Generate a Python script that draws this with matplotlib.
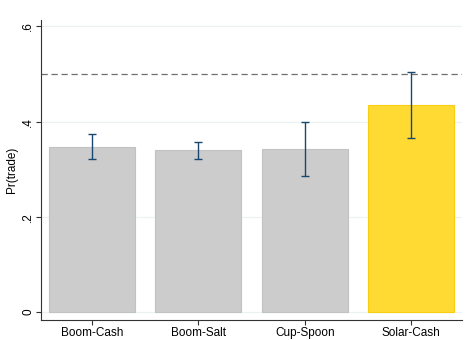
import numpy as np
import matplotlib.pyplot as plt

plt.rcParams['font.family'] = ['Liberation Sans', 'DejaVu Sans']

categories = ['Boom-Cash', 'Boom-Salt', 'Cup-Spoon', 'Solar-Cash']
means = [0.347, 0.341, 0.343, 0.435]
ci_low = [0.322, 0.322, 0.285, 0.366]
ci_high = [0.374, 0.358, 0.400, 0.504]
y_ticks = [0, 0.2, 0.4, 0.6]
y_tick_labels = ['0', '.2', '.4', '.6']

bar_colors = ['#cccccc', '#cccccc', '#cccccc', '#ffda33']
edge_colors = ['#c2c2c2', '#c2c2c2', '#c2c2c2', '#f7cf10']

fig = plt.figure(figsize=(4.69, 3.4), dpi=100)
ax = fig.add_axes([0.0874, 0.058, 0.898, 0.883])

x = np.arange(1, len(categories) + 1)
means = np.array(means)
ax.bar(x, means, width=0.81, color=bar_colors, edgecolor=edge_colors,
       linewidth=0.8, zorder=2)
yerr = [means - np.array(ci_low), np.array(ci_high) - means]
ax.errorbar(x, means, yerr=yerr, fmt='none', ecolor='#1a476f',
            elinewidth=1.0, capsize=3, capthick=1.0, zorder=3)

# reference line at one half
ax.axhline(0.5, color='#6e6e6e', linestyle=(0, (5, 3)), linewidth=0.9, zorder=1)

for t in y_ticks:
    ax.axhline(t, color='#eaf2f3', linewidth=0.9, zorder=0)

ax.set_xlim(0.52, 4.48)
ax.set_ylim(-0.017, 0.613)
ax.set_xticks(x)
ax.set_xticklabels(categories, fontsize=8.5)
ax.set_yticks(y_ticks)
ax.set_yticklabels(y_tick_labels, fontsize=8.5, rotation=90, va='center')
ax.set_ylabel('Pr(trade)', fontsize=8.5)
ax.yaxis.set_label_coords(-0.055, 0.5)

for side in ['top', 'right']:
    ax.spines[side].set_visible(False)
ax.spines['left'].set_color('#333333')
ax.spines['bottom'].set_color('#333333')
ax.tick_params(axis='both', length=3.5, width=0.8, color='#333333', pad=1.5)

fig.savefig('out.png', dpi=100)
